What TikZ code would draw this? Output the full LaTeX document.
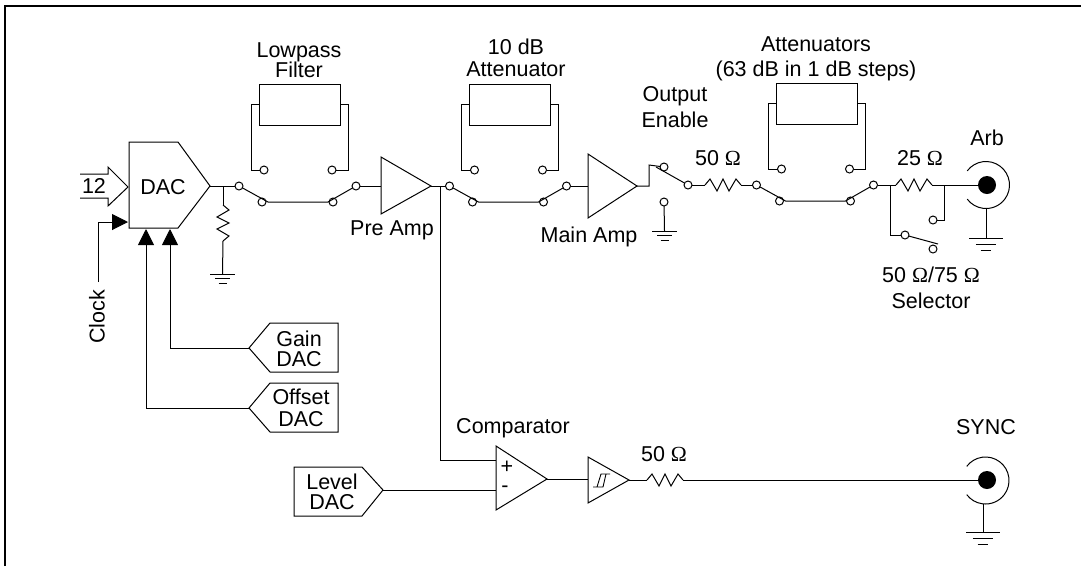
\documentclass[tikz,border=0pt]{standalone}
\usepackage{fontspec}
\setmainfont{Liberation Sans}
\newfontfamily\ohmfont{Liberation Serif}
\newcommand{\ohm}{{\ohmfont Ω}}
\usetikzlibrary{arrows.meta}
\setlength{\normallineskiplimit}{-10pt}
\setlength{\normallineskip}{0pt}
\setlength{\lineskiplimit}{-10pt}
\setlength{\lineskip}{0pt}
\tikzset{
	wire/.style = {line width = 1pt, line join = miter},
	contact/.style = {draw, circle, fill = white, line width = 1pt, inner sep = 0pt, outer sep = 0pt, minimum size = 8pt},
	lbl/.style = {inner sep = 0pt, outer sep = 0pt, align = center, font = \fontsize{21.5}{20}\selectfont},
	netbox/.style = {draw, rectangle, line width = 1pt, inner sep = 0pt, outer sep = 0pt, minimum width = 81pt, minimum height = 41pt},
	jack/.style = {circle, fill = black, inner sep = 0pt, outer sep = 0pt, minimum size = 18pt},
	sigarrow/.style = {wire, -{Triangle[length = 16pt, width = 16pt]}},
	resistor/.pic = {
		\coordinate (-in) at (0,0);
		\coordinate (-out) at (36,0);
		\draw[wire] (0,0) -- (5,-6) -- (12,6) -- (18,-6) -- (24,6) -- (31,-6) -- (36,0);
	},
	ground/.pic = {
		\coordinate (-top) at (0,0);
		\draw[wire] (-12.5,0) -- (12.5,0);
		\draw[wire] (-7.5,4.5) -- (7.5,4.5);
		\draw[wire] (-4,9) -- (4,9);
	}
}
\begin{document}
\begin{tikzpicture}[x = 1pt, y = -1pt]
		\useasboundingbox (0,0) rectangle (1081,566);
		\draw[line width = 2pt] (5,566) -- (5,6) -- (1081,6);
		% the three switched networks
		\foreach \n/\dx/\dy in {lp/0/0, att/210.5/0, rng/517.5/-1} {
			\begin{scope}[shift = {(\dx,\dy)}]
				\node[contact] at (239,186) (\n-a) {};
				\node[contact] at (262,202) (\n-b) {};
				\node[contact] at (333,202) (\n-c) {};
				\node[contact] at (356,186) (\n-d) {};
				\node[contact] at (264,170) (\n-e) {};
				\node[contact] at (332,170) (\n-f) {};
				\node[netbox] at (299.5,104.5) (\n-box) {};
				\coordinate (\n-l) at (268,202);
				\coordinate (\n-r) at (328,202);
				\draw[wire] (\n-a) -- (\n-l) -- (\n-r) -- (\n-d);
				\draw[wire] (\n-e.west) -- ++(-9,0) |- (\n-box.west);
				\draw[wire] (\n-f.east) -- ++(12,0) |- (\n-box.east);
			\end{scope}
		}
		% DAC and its inputs
		\draw[wire] (129,142) -- (178,142) -- (210,186) -- (178,228) -- (129,228) -- cycle;
		\coordinate (dacout) at (210,186);
		\node[lbl] at (163,187) (daclbl) {DAC};
		\draw[wire] (80,174) -- (108,174) -- (108,167) -- (128,187) -- (108,206) -- (108,198) -- (80,198);
		\node[lbl] at (94,186) (bits) {12};
		\coordinate (clkin) at (128,222);
		\coordinate (clktail) at (98,282);
		\draw[sigarrow] (clktail) |- (clkin);
		\node[lbl, rotate = 90] at (97,317) (clk) {Clock};
		\draw[wire] (249,348) -- (270,323) -- (338,323) -- (338,372) -- (270,372) -- cycle;
		\coordinate (gaintip) at (249,348);
		\coordinate (gainin) at (170,229);
		\node[lbl] at (299,349) (gain) {Gain\\DAC};
		\draw[wire] (249,408) -- (270,383) -- (338,383) -- (338,432) -- (270,432) -- cycle;
		\coordinate (offtip) at (249,408);
		\coordinate (offin) at (146,229);
		\node[lbl] at (301,408) (off) {Offset\\[2pt]DAC};
		\draw[sigarrow] (gaintip) -| (gainin);
		\draw[sigarrow] (offtip) -| (offin);
		% DAC output with its load
		\coordinate (tap1) at (223,186);
		\draw[wire] (dacout) -- (lp-a);
		\pic[rotate = -90] (rload) at (223,205) {resistor};
		\pic (gnd1) at (222.5,274) {ground};
		\draw[wire] (tap1) -- (rload-in);
		\draw[wire] (rload-out) -- (gnd1-top);
		% pre amp
		\draw[wire] (381,157) -- (431,186) -- (381,214) -- cycle;
		\coordinate (prein) at (381,186);
		\coordinate (preout) at (431,186);
		\coordinate (tap2) at (440,186);
		\node[lbl] at (392,230) (pre) {Pre Amp};
		\draw[wire] (lp-d) -- (prein);
		\draw[wire] (preout) -- (att-a);
		% main amp and output enable
		\draw[wire] (588,154) -- (637,186) -- (588,218) -- cycle;
		\coordinate (mainin) at (588,186);
		\coordinate (mainout) at (637,186);
		\node[lbl] at (589,237) (main) {Main Amp};
		\draw[wire] (att-d) -- (mainin);
		\node[contact] at (664,167) (oe-a) {};
		\node[contact] at (688,185) (oe-b) {};
		\node[contact] at (664,202) (oe-c) {};
		\coordinate (oetap) at (649,165);
		\coordinate (oearm) at (656,167);
		\draw[wire] (mainout) -| (oetap) -- (oe-a);
		\draw[wire] (oearm) -- (oe-b);
		\pic (gnd2) at (664.5,231) {ground};
		\draw[wire] (oe-c) -- (gnd2-top);
		\node[lbl] at (675,107) (oelbl) {Output\\[6pt]Enable};
		\pic (r50) at (705,185) {resistor};
		\draw[wire] (oe-b) -- (r50-in);
		\draw[wire] (r50-out) -- (rng-a);
		\node[lbl] at (718,158) (r50lbl) {50 \ohm};
		% arb output and selector
		\coordinate (tap3) at (890,185);
		\coordinate (tap4) at (944,185);
		\pic (r25) at (896,185) {resistor};
		\node[lbl] at (920,158) (r25lbl) {25 \ohm};
		\node[jack] at (987,185) (arb) {};
		\coordinate (arbc) at (986,185);
		\draw[wire] (rng-d) -- (r25-in);
		\draw[wire] (r25-out) -- (arb);
		\draw[wire] ([shift = {(143:23.5pt)}]arbc) arc[start angle = 143, end angle = -143, radius = 23.5pt];
		\pic[scale = 1.36] (gnd3) at (986,238) {ground};
		\draw[wire] ([yshift = -23.5pt]arbc) -- (gnd3-top);
		\node[lbl] at (987,138) (arblbl) {Arb};
		\node[contact] at (933,220) (sel-a) {};
		\node[contact] at (905,235) (sel-b) {};
		\node[contact] at (933,249) (sel-c) {};
		\coordinate (selarm) at (938,244);
		\draw[wire] (tap4) |- (sel-a);
		\draw[wire] (tap3) |- (sel-b);
		\draw[wire] (sel-b) -- (selarm);
		\node[lbl] at (931,288) (sellbl) {50 \ohm/75 \ohm\\[6pt]Selector};
		% comparator branch
		\draw[wire] (496,446) -- (547,479) -- (496,510) -- cycle;
		\coordinate (plusin) at (496,460);
		\coordinate (minusin) at (496,490);
		\coordinate (cmpout) at (547,479);
		\node[lbl] at (513,428) (cmplbl) {Comparator};
		\node[lbl] at (507,467) (plus) {+};
		\node[lbl] at (505,489) (minus) {-};
		\draw[wire] (tap2) |- (plusin);
		\draw[wire] (294,467) -- (362,467) -- (383,490) -- (362,516) -- (294,516) -- cycle;
		\coordinate (leveltip) at (383,490);
		\node[lbl] at (332,492) (level) {Level\\DAC};
		\draw[wire] (leveltip) -- (minusin);
		\draw[wire] (588,457) -- (629,480) -- (588,503) -- cycle;
		\coordinate (trigin) at (588,479);
		\coordinate (trigout) at (629,480);
		\draw[wire] (cmpout) -- (trigin);
		\draw[line width = 0.9pt] (593,487) -- (603,487) -- (606,474) (597,487) -- (601,474) -- (610,474);
		\pic (r50b) at (647,480) {resistor};
		\node[lbl] at (664,454) (r50blbl) {50 \ohm};
		\draw[wire] (trigout) -- (r50b-in);
		\node[jack] at (987,480) (sync) {};
		\coordinate (syncc) at (985.5,480.5);
		\coordinate (syncbot) at (983,504);
		\draw[wire] (r50b-out) -- (sync);
		\draw[wire] ([shift = {(143:23.5pt)}]syncc) arc[start angle = 143, end angle = -143, radius = 23.5pt];
		\pic[scale = 1.36] (gnd4) at (983,532) {ground};
		\draw[wire] (syncbot) -- (gnd4-top);
		\node[lbl] at (986,427) (synclbl) {SYNC};
		% titles of the networks
		\node[lbl] at (299,60) (lplbl) {Lowpass\\Filter};
		\node[lbl] at (516,58) (attlbl) {10 dB\\[2pt]Attenuator};
		\node[lbl] at (816,59) (rnglbl) {Attenuators\\[5pt](63 dB in 1 dB steps)};
	\end{tikzpicture}
\end{document}
